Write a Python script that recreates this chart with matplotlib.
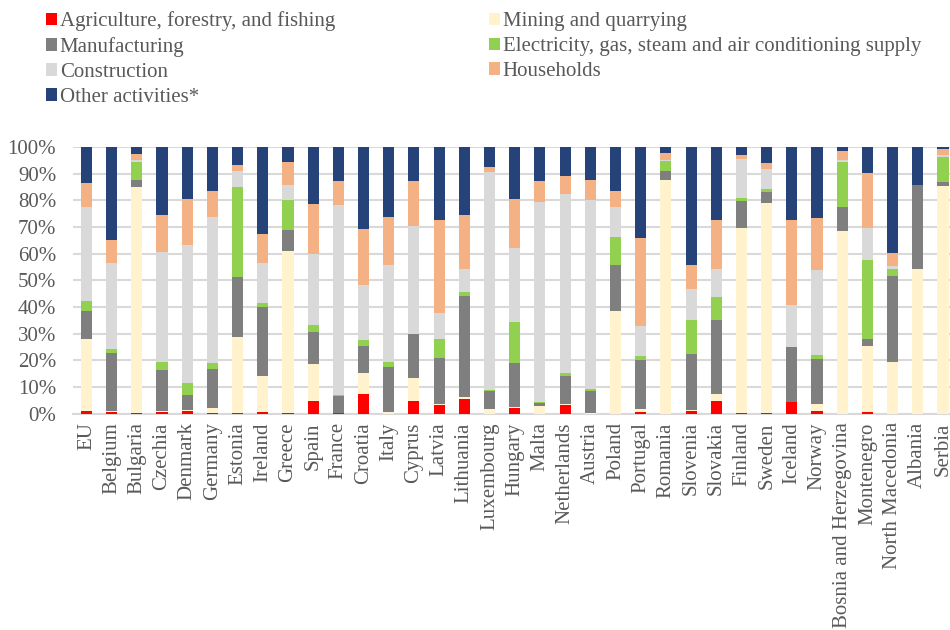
import matplotlib
matplotlib.use("Agg")
import matplotlib.pyplot as plt
import numpy as np
from matplotlib.patches import Patch
from matplotlib.ticker import PercentFormatter

countries = ["EU", "Belgium", "Bulgaria", "Czechia", "Denmark", "Germany", "Estonia",
             "Ireland", "Greece", "Spain", "France", "Croatia", "Italy", "Cyprus",
             "Latvia", "Lithuania", "Luxembourg", "Hungary", "Malta", "Netherlands",
             "Austria", "Poland", "Portugal", "Romania", "Slovenia", "Slovakia",
             "Finland", "Sweden", "Iceland", "Norway", "Bosnia and Herzegovina",
             "Montenegro", "North Macedonia", "Albania", "Serbia"]

# shares in percent, bottom to top of each bar
agriculture = [1.0, 0.7, 0.5, 0.6, 1.2, 0.2, 0.5, 0.9, 0.5, 4.9, 0.4, 7.6, 0.1, 4.9,
               3.5, 5.6, 0.0, 2.2, 0.0, 3.2, 0.1, 0.1, 0.6, 0.1, 1.2, 4.7,
               0.5, 0.5, 4.5, 1.2, 0.0, 0.9, 0.0, 0.0, 0.0]
mining = [27.0, 0.3, 84.5, 0.6, 0.1, 2.0, 28.2, 13.3, 60.5, 13.7, 0.1, 7.8, 0.8, 8.6,
          0.1, 0.8, 1.9, 0.4, 3.1, 0.5, 0.4, 38.6, 1.4, 87.4, 0.1, 2.8,
          69.2, 78.5, 0.0, 2.5, 68.5, 24.4, 19.4, 54.1, 85.3]
manufacturing = [10.7, 21.7, 2.5, 15.3, 5.9, 14.7, 22.4, 25.8, 7.9, 12.0, 6.2, 9.9, 16.6, 16.3,
                 17.2, 37.7, 6.7, 16.5, 1.1, 10.5, 8.1, 17.2, 18.1, 3.6, 21.0, 27.8,
                 10.0, 4.0, 20.5, 16.8, 9.0, 2.7, 32.2, 31.5, 1.5]
electricity = [3.7, 1.5, 6.8, 2.9, 4.5, 2.2, 33.8, 1.7, 11.1, 2.6, 0.4, 2.2, 1.9, 0.2,
               7.2, 1.7, 0.3, 15.2, 0.1, 1.2, 0.9, 10.5, 1.5, 3.5, 13.0, 8.3,
               1.1, 1.1, 0.2, 1.5, 16.8, 29.8, 2.8, 0.0, 9.3]
construction = [35.0, 32.4, 0.7, 41.3, 51.7, 54.6, 6.0, 14.9, 5.6, 26.7, 71.2, 20.7, 36.5, 40.5,
                9.7, 8.3, 81.5, 27.9, 75.0, 66.9, 70.5, 11.0, 11.2, 0.3, 11.3, 10.5,
                14.5, 7.4, 15.5, 31.7, 0.7, 11.9, 0.8, 0.0, 0.8]
households = [9.0, 8.6, 2.3, 13.8, 17.1, 9.7, 2.2, 10.8, 8.7, 18.8, 8.8, 21.1, 17.9, 16.8,
              35.0, 20.3, 2.2, 18.4, 7.8, 6.7, 7.5, 6.0, 32.9, 2.6, 9.2, 18.6,
              1.8, 2.6, 32.0, 19.7, 3.6, 20.4, 5.1, 0.0, 2.1]
other = [13.6, 34.8, 2.7, 25.5, 19.6, 16.6, 6.9, 32.6, 5.7, 21.3, 12.9, 30.7, 26.2, 12.9,
         27.3, 25.6, 7.4, 19.4, 12.9, 11.0, 12.5, 16.6, 34.3, 2.5, 44.2, 27.3,
         2.9, 5.9, 27.3, 26.6, 1.4, 9.9, 39.7, 14.4, 1.0]

series = [
    ("Agriculture, forestry, and fishing", agriculture, "#FF0000"),
    ("Mining and quarrying", mining, "#FFF2CC"),
    ("Manufacturing", manufacturing, "#7F7F7F"),
    ("Electricity, gas, steam and air conditioning supply", electricity, "#92D050"),
    ("Construction", construction, "#D9D9D9"),
    ("Households", households, "#F4B183"),
    ("Other activities*", other, "#254379"),
]

text_color = "#595959"
plt.rcParams["font.family"] = ["Liberation Serif", "DejaVu Serif"]

fig = plt.figure(figsize=(9.5, 6.3), dpi=100)
ax = fig.add_axes([0.0768, 0.343, 0.93, 0.424])

x = np.arange(len(countries))
bottom = np.zeros(len(countries))
handles = {}
for name, vals, color in series:
    v = np.array(vals) / 100.0
    ax.bar(x, v, 0.44, bottom=bottom, color=color, zorder=3)
    bottom += v
    handles[name] = Patch(facecolor=color, label=name)

ax.set_ylim(0, 1)
ax.set_xlim(-0.535, len(countries) - 1 + 0.535)
ax.set_yticks(np.arange(0, 1.01, 0.1))
ax.yaxis.set_major_formatter(PercentFormatter(1.0, decimals=0))
ax.set_xticks(x)
ax.set_xticklabels(countries, rotation=90)
ax.tick_params(axis="both", length=0, labelsize=15, labelcolor=text_color)
ax.tick_params(axis="y", pad=12)
ax.tick_params(axis="x", pad=6)
ax.grid(axis="y", color="#D9D9D9", linewidth=1.5, zorder=0)
for s in ["top", "right", "left"]:
    ax.spines[s].set_visible(False)
ax.spines["bottom"].set_color("#D9D9D9")
ax.spines["bottom"].set_linewidth(1.5)

order = ["Agriculture, forestry, and fishing", "Manufacturing", "Construction",
         "Other activities*", "Mining and quarrying",
         "Electricity, gas, steam and air conditioning supply", "Households"]
leg = fig.legend([handles[n] for n in order], order, loc="upper left",
                 bbox_to_anchor=(0.040, 0.995), ncol=2, frameon=False, fontsize=15,
                 handlelength=0.5, handleheight=0.55, handletextpad=0.15,
                 labelspacing=0.28, columnspacing=7.4, borderaxespad=0)
for t in leg.get_texts():
    t.set_color(text_color)

fig.savefig("out.png", dpi=100)
